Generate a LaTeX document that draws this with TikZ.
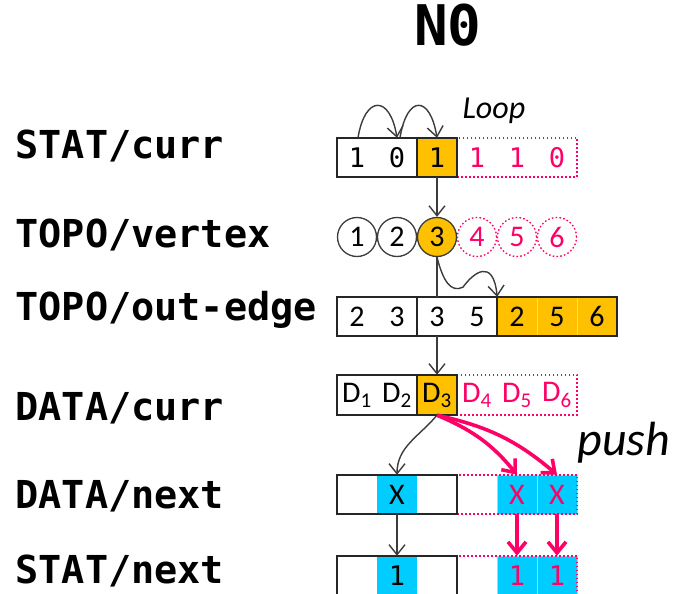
\documentclass[tikz,border=0pt]{standalone}
\usepackage{fontspec}
\setmonofont{DejaVu Sans Mono}
\newfontfamily\calfont{Carlito}
\usepackage{tikz}
\usetikzlibrary{arrows.meta}
\definecolor{curOrange}{RGB}{255, 192, 0}
\definecolor{hitCyan}{RGB}{0, 204, 255}
\definecolor{newPink}{RGB}{255, 0, 102}
\definecolor{lineGray}{RGB}{60, 60, 60}

\tikzset{
  lbl/.style={anchor=base west, font=\fontsize{38.5}{38.5}\selectfont\ttfamily\bfseries},
  cell/.style={minimum width=40pt, minimum height=39pt, inner sep=0pt},
  curcell/.style={cell, fill=curOrange},
  newcell/.style={cell, text=newPink},
  outcell/.style={cell, fill=curOrange, draw=curOrange!55!white, line width=0.6pt},
  hitcell/.style={cell, fill=hitCyan},
  newhit/.style={cell, fill=hitCyan, text=newPink, draw=hitCyan!50!white, line width=0.6pt},
  vtx/.style={circle, minimum size=39pt, inner sep=0pt, draw=lineGray, line width=1.3pt},
  vtxcur/.style={vtx, fill=curOrange},
  vtxnew/.style={vtx, draw=newPink, text=newPink, dash pattern=on 1.6pt off 2.2pt},
  box/.style={draw=black!85, line width=1.8pt},
  dotbox/.style={draw=newPink, line width=1.8pt, dash pattern=on 1.8pt off 2.2pt},
  flow/.style={draw=lineGray, line width=1.4pt, -{Straight Barb[length=10pt, width=16pt]}},
  pushflow/.style={draw=newPink, line width=3.6pt, -{Straight Barb[length=11pt, width=18pt]}},
  mono/.style={font=\fontsize{27}{27}\selectfont\ttfamily},
  sans/.style={font=\fontsize{30}{30}\selectfont\calfont},
}

\begin{document}
\begin{tikzpicture}[x=1pt, y=-1pt]
  \clip (0,0) rectangle (673,594);

  % title and row labels
  \node[anchor=base, font=\fontsize{56}{56}\selectfont\ttfamily\bfseries] (title) at (448,46) {N0};
  \node[lbl] (lstatc) at (12,158) {STAT/curr};
  \node[lbl] (lvert) at (12,247) {TOPO/vertex};
  \node[lbl] (ledge) at (12,320) {TOPO/out-edge};
  \node[lbl] (ldatac) at (12,420) {DATA/curr};
  \node[lbl] (ldatan) at (12,508) {DATA/next};
  \node[lbl] (lstatn) at (12,583) {STAT/next};

  % STAT/curr
  \foreach \v/\st [count=\i] in {1/cell, 0/cell, 1/curcell, 1/newcell, 1/newcell, 0/newcell}
    \node[\st, mono] (sc\i) at (317+40*\i,157.5) {\v};
  \draw[dotbox] (sc4.north west) rectangle (sc6.south east);
  \draw[box] (sc1.north west) rectangle (sc3.south east);
  \draw[box] (sc3.north west) -- (sc3.south west);
  \node[anchor=base west, font=\fontsize{32}{32}\selectfont\calfont\itshape] (loop) at (459,118) {Loop};

  % TOPO/vertex
  \foreach \v/\st [count=\i] in {1/vtx, 2/vtx, 3/vtxcur, 4/vtxnew, 5/vtxnew, 6/vtxnew}
    \node[\st, sans] (v\i) at (317+40*\i,237) {\v};

  % TOPO/out-edge
  \foreach \v/\st [count=\i] in {2/cell, 3/cell, 3/cell, 5/cell, 2/outcell, 5/outcell, 6/outcell}
    \node[\st, sans] (oe\i) at (317+40*\i,316.5) {\v};
  \draw[box] (oe1.north west) rectangle (oe2.south east);
  \draw[box] (oe3.north west) rectangle (oe4.south east);
  \draw[box] (oe5.north west) rectangle (oe7.south east);

  % DATA/curr
  \foreach \v/\st [count=\i] in {1/cell, 2/cell, 3/curcell, 4/newcell, 5/newcell, 6/newcell}
    \node[\st, sans, minimum height=40pt] (dc\i) at (317+40*\i,395) {D\textsubscript{\v}};
  \draw[dotbox] (dc4.north west) rectangle (dc6.south east);
  \draw[box] (dc1.north west) rectangle (dc3.south east);
  \draw[box] (dc3.north west) -- (dc3.south west);

  % DATA/next
  \foreach \v/\st [count=\i] in {/cell, X/hitcell, /cell, /cell, X/newhit, X/newhit}
    \node[\st, sans] (dn\i) at (317+40*\i,494.5) {\v};
  \draw[dotbox] (dn4.north west) rectangle (dn6.south east);
  \draw[box] (dn1.north west) rectangle (dn3.south east);
  \node[anchor=base west, font=\fontsize{48}{48}\selectfont\calfont\itshape] (push) at (574,455) {push};

  % STAT/next
  \foreach \v/\st [count=\i] in {/cell, 1/hitcell, /cell, /cell, 1/newhit, 1/newhit}
    \node[\st, mono] (sn\i) at (317+40*\i,575.5) {\v};
  \draw[dotbox] (sn4.north west) rectangle (sn6.south east);
  \draw[box] (sn1.north west) rectangle (sn3.south east);

  % loop over the status bits
  \draw[flow] ([xshift=1pt]sc1.north) .. controls +(7,-43) and +(-7,-43) .. (sc2.north);
  \draw[flow] ([xshift=3pt]sc2.north) .. controls +(7,-43) and +(-7,-43) .. (sc3.north);
  \draw[flow] (sc3.south) -- (v3.north);

  % vertex to its out-edges
  \draw[draw=lineGray, line width=1.4pt] (v3.south) -- (oe3.north);
  \draw[flow] (v3.south) .. controls +(6,24) and +(-12,6) .. ++(26,30)
    .. controls +(10,-14) and +(-4,-40) .. (oe4.north east);
  \draw[flow] (oe3.south) -- (dc3.north);

  % scatter to the next frontier
  \draw[flow] (dc3.south) to[out=-130, in=90] (dn2.north);
  \draw[flow] (dn2.south) -- (sn2.north);
  \draw[pushflow] (dc3.south) to[bend left=14] (dn5.north);
  \draw[pushflow] (dc3.south) to[bend left=14] (dn6.north);
  \draw[pushflow] (dn5.south) -- (sn5.north);
  \draw[pushflow] (dn6.south) -- (sn6.north);
\end{tikzpicture}
\end{document}
